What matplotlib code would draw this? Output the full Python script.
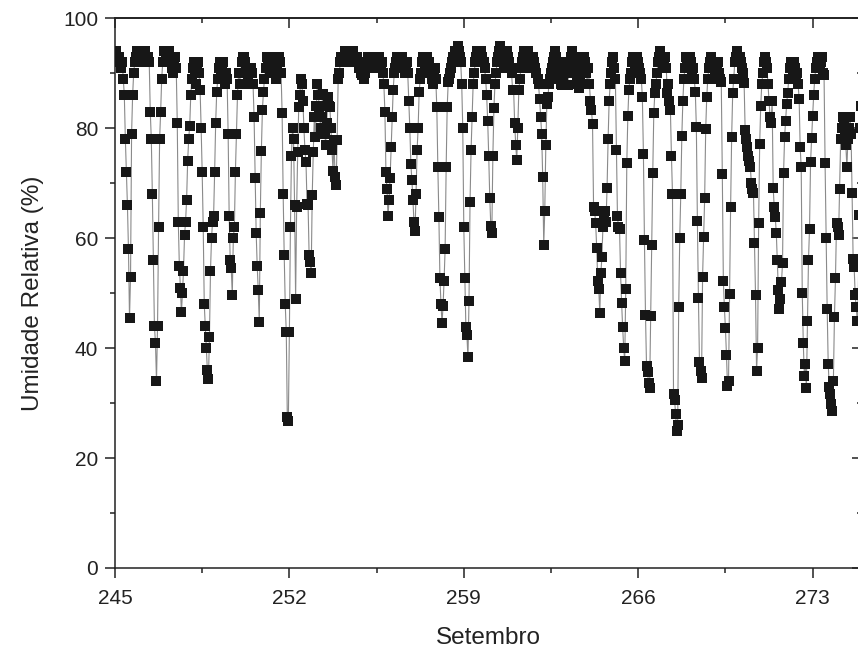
import numpy as np
import matplotlib
matplotlib.use("Agg")
import matplotlib.pyplot as plt
from matplotlib.ticker import MultipleLocator

plt.rcParams['font.family'] = ['Liberation Sans', 'DejaVu Sans']

# Hourly relative humidity (%), one list per day of year (hours 0..23)
first_day = 245
samples_per_day = 24

rh245 = [93, 94, 93, 92, 93, 92, 91, 92, 89, 86, 78, 72, 66, 58, 45.5, 53, 79, 86, 90, 92, 93, 94, 93, 92]
rh246 = [93, 94, 93, 92, 93, 94, 93, 92, 93, 92, 83, 78, 68, 56, 44, 41, 34, 44, 62, 78, 83, 89, 92, 94]
rh247 = [94, 93, 92, 93, 94, 93, 92, 91, 90, 92, 93, 91, 81, 63, 55, 51, 46.5, 50, 54, 60.5, 63, 67, 74, 78]
rh248 = [80.5, 86, 89, 91, 92, 90, 88, 91, 92, 90, 87, 80, 72, 62, 48, 44, 40, 36, 34.3, 42, 54, 60, 63, 64]
rh249 = [72, 81, 86.6, 89, 91, 92, 90, 91, 92, 90, 88, 90, 89, 79, 64, 56, 54.5, 49.7, 60, 62, 72, 79, 86, 90]
rh250 = [88, 90, 92, 93, 93, 92, 91, 90, 89, 88, 90, 91, 90, 88, 82, 71, 61, 55, 50.5, 44.8, 64.5, 75.8, 83.3, 86.6]
rh251 = [89, 91, 93, 92, 91, 90, 92, 93, 92, 91, 90, 89, 91, 92, 93, 92, 90, 82.7, 68, 57, 48, 43, 27.4, 26.8]
rh252 = [43, 62, 75, 80, 78, 66, 49, 65.6, 75.6, 83.8, 86, 89, 88, 85, 80, 76, 73.8, 66.3, 66, 57, 55.6, 53.6, 67.8, 75.6]
rh253 = [82, 78.4, 84, 88, 86, 83, 80, 82, 86.3, 84, 79, 77, 81, 85.6, 84, 83.8, 80, 76, 72.3, 77.8, 71.1, 69.6, 77.8, 89]
rh254 = [90, 92, 93, 93, 92, 93, 94, 93, 92, 93, 93, 92, 93, 94, 93, 93, 92, 93, 92, 91, 92, 90, 89.6, 90]
rh255 = [89, 90, 91, 92, 93, 93, 92, 93, 92, 91, 92, 93, 93, 92, 93, 92, 91, 92, 90, 88, 83, 72, 69, 64]
rh256 = [67, 71, 76.5, 82, 87, 90, 91, 92, 93, 92, 91, 92, 93, 92, 91, 90, 91, 92, 90, 85, 80, 73.5, 70.5, 67]
rh257 = [62.9, 61.3, 68, 76, 80, 86.6, 89, 90, 92, 93, 92, 91, 92, 93, 92, 91, 90, 89, 88, 90, 91, 89, 83.8, 72.9]
rh258 = [63.8, 52.7, 48.1, 44.5, 47.6, 52.3, 58, 72.9, 83.8, 88.4, 89, 90, 91, 92, 93, 93, 94, 94, 95, 94, 93, 92, 88, 80]
rh259 = [62, 52.7, 43.8, 42.3, 38.3, 48.5, 66.5, 76, 82, 88, 90, 92, 93, 94, 93, 92, 93, 94, 93, 92, 91, 89, 86, 81.4]
rh260 = [75, 67.4, 62.3, 61, 75, 83.6, 88, 90, 92, 93, 94, 95, 94, 93, 92, 91, 92, 93, 94, 93, 92, 91, 90, 87]
rh261 = [86.9, 80.9, 77, 74.2, 80, 86.9, 89, 91, 92, 93, 94, 93, 92, 93, 94, 93, 92, 91, 92, 93, 92, 91, 90, 89]
rh262 = [88, 85.3, 82, 79, 71.1, 58.8, 65, 76.9, 84.5, 85.6, 88, 89, 90, 91, 92, 93, 94, 93, 92, 91, 90, 89, 88, 87.8]
rh263 = [89, 91, 92, 91, 87.8, 90, 92, 93, 94, 93, 92, 91, 90, 89, 88, 87.4, 89, 91, 92, 93, 93, 92, 90, 88]
rh264 = [91, 88, 85, 83.3, 80.7, 65.6, 65, 62.7, 58.3, 52.3, 50.8, 46.3, 53.6, 56.5, 62, 64, 65, 63, 69.2, 78, 85, 88, 90, 92]
rh265 = [93, 91, 89, 76, 64, 62, 61.7, 53.6, 48.3, 43.8, 40.1, 37.6, 50.8, 73.6, 82.2, 87, 89, 90, 92, 93, 92, 91, 92, 93]
rh266 = [92, 91, 90, 89, 85.6, 75.4, 59.6, 46.1, 36.8, 35.6, 33.6, 32.7, 45.9, 58.8, 71.8, 82.7, 86.4, 88, 90, 92, 93, 94, 93, 92]
rh267 = [91, 92, 93, 91, 86.4, 88, 85, 83.3, 75, 68.1, 31.7, 30.6, 28.1, 25, 26, 47.4, 60, 68.1, 78.5, 85, 89, 91, 93, 92]
rh268 = [92, 91, 93, 92, 90, 91, 89, 86.6, 80.2, 63.1, 49.2, 37.4, 35.9, 34.5, 53, 60.2, 67.3, 79.8, 85.6, 89, 91, 92, 93, 92]
rh269 = [91, 92, 90, 89, 91, 92, 90, 89, 88.4, 71.6, 52.3, 47.4, 43.6, 38.8, 33.2, 34.1, 49.9, 65.6, 78.4, 86.4, 89, 92, 93, 94]
rh270 = [93, 92, 93, 92, 91, 90, 88.3, 79.6, 78, 76.5, 75, 74, 72.9, 70, 69, 68.3, 59.2, 49.6, 35.9, 40.1, 62.7, 77.2, 84, 88]
rh271 = [90, 92, 93, 92, 91, 88, 85, 82, 80.9, 85, 69.2, 65.6, 63.8, 61, 56, 50.5, 47.2, 49, 52, 55.4, 71.8, 78.4, 81.4, 84.5]
rh272 = [86.5, 89, 91, 92, 91, 90, 92, 91, 89, 90, 88, 85.4, 76.5, 72.9, 50.1, 40.9, 35, 37.2, 32.7, 45, 56, 61.7, 73.8, 78.2]
rh273 = [82.2, 86, 89, 91, 92, 93, 92, 91, 92, 93, 90, 89.6, 73.6, 60, 47.2, 37.2, 33, 31.7, 29.8, 28.6, 34.1, 45.6, 52.7, 62.7]
rh274 = [62, 60.5, 69, 78, 80, 82, 81, 79, 76.9, 72.9, 78, 80, 82, 79, 68.3, 56.3, 54.7, 49.6, 47.4, 45, 50, 64.2, 80, 84]

daily_rh = [rh245, rh246, rh247, rh248, rh249, rh250, rh251, rh252, rh253, rh254,
            rh255, rh256, rh257, rh258, rh259, rh260, rh261, rh262, rh263, rh264,
            rh265, rh266, rh267, rh268, rh269, rh270, rh271, rh272, rh273, rh274]

x_ticks = [245, 252, 259, 266, 273]
y_ticks = [0, 20, 40, 60, 80, 100]

rh = np.concatenate([np.asarray(d, dtype=float) for d in daily_rh])
t = first_day + np.arange(rh.size) / samples_per_day

fig = plt.figure(figsize=(8.58, 6.54), dpi=100)
ax = fig.add_axes([0.134, 0.1315, 0.8712, 0.8405])

ax.plot(t, rh, '-', color='#8a8a8a', lw=0.8, zorder=2)
ax.plot(t, rh, 's', ms=7.2, color='#171717', mew=0, zorder=3)

ax.set_xlim(245, 275)
ax.set_ylim(0, 100)

ink = '#222222'
for s in ax.spines.values():
    s.set_linewidth(1.1)
    s.set_color(ink)

ax.set_xticks(x_ticks)
ax.set_yticks(y_ticks)
ax.xaxis.set_minor_locator(MultipleLocator(3.5))
ax.yaxis.set_minor_locator(MultipleLocator(10))
ax.tick_params(which='major', direction='out', length=7, width=1.1, color=ink,
               labelsize=15, labelcolor=ink, pad=5)
ax.tick_params(axis='x', which='major', pad=8)
ax.tick_params(which='minor', direction='out', length=3.5, width=1.1, color=ink)

# mirrored axes with inward ticks and no labels
top = ax.secondary_xaxis('top')
top.set_xticks(x_ticks)
top.xaxis.set_minor_locator(MultipleLocator(3.5))
top.tick_params(which='major', direction='in', length=7, width=1.1, color=ink, labeltop=False)
top.tick_params(which='minor', direction='in', length=3.5, width=1.1, color=ink)
top.spines['top'].set_linewidth(1.1)

right = ax.secondary_yaxis('right')
right.set_yticks(y_ticks)
right.yaxis.set_minor_locator(MultipleLocator(10))
right.tick_params(which='major', direction='in', length=7, width=1.1, color=ink, labelright=False)
right.tick_params(which='minor', direction='in', length=3.5, width=1.1, color=ink)
right.spines['right'].set_linewidth(1.1)

ax.set_xlabel('Setembro', fontsize=17.5, color=ink, labelpad=14)
ax.set_ylabel('Umidade Relativa (%)', fontsize=17.5, color=ink, labelpad=14)

fig.savefig('out.png', dpi=100, facecolor='white')
